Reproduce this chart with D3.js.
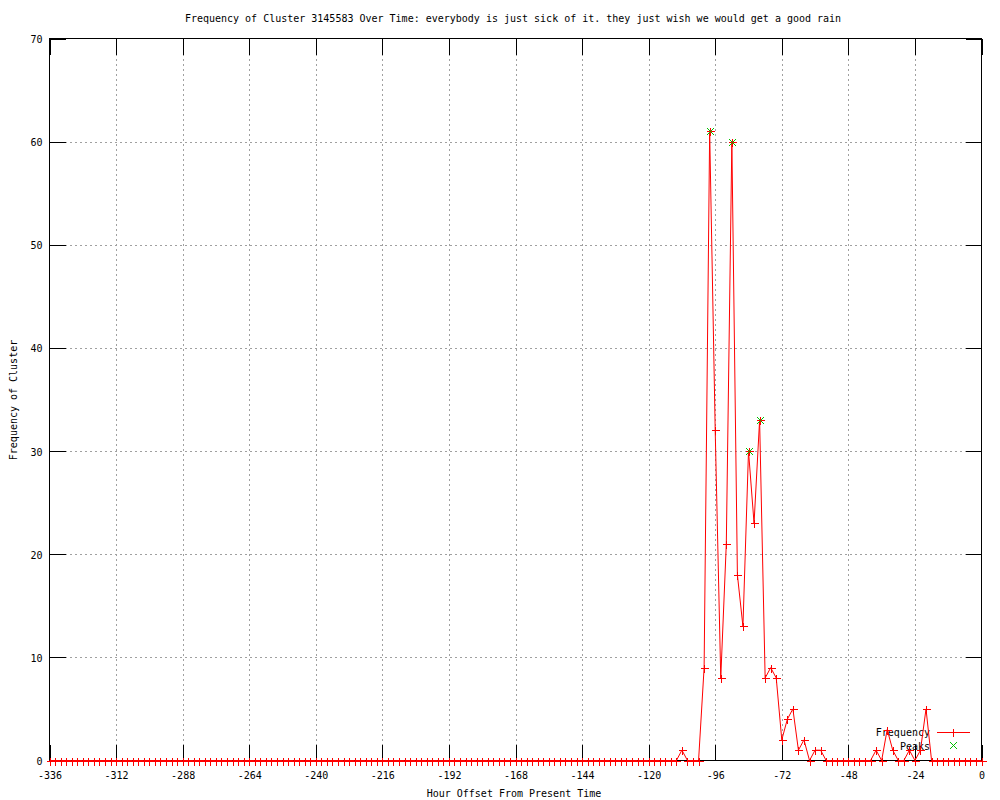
<!DOCTYPE html>
<html>
<head>
<meta charset="utf-8">
<script src="https://cdn.jsdelivr.net/npm/d3@7"></script>
<style>
  body { margin: 0; background: #fff; }
  svg text { font-family: 'DejaVu Sans Mono', monospace; font-size: 10px; fill: #000; }
</style>
</head>
<body>
<svg class="freq-svg" width="1000" height="800"></svg>
<script>
const title = 'Frequency of Cluster 3145583 Over Time: everybody is just sick of it. they just wish we would get a good rain'
const xLabel = 'Hour Offset From Present Time'
const yLabel = 'Frequency of Cluster'

// one sample every 2 hours, -336 .. 0
const hours = d3.range(-336, 1, 2)
const counts = [
  0, 0, 0, 0, 0, 0, 0, 0, 0, 0, 0, 0,
  0, 0, 0, 0, 0, 0, 0, 0, 0, 0, 0, 0,
  0, 0, 0, 0, 0, 0, 0, 0, 0, 0, 0, 0,
  0, 0, 0, 0, 0, 0, 0, 0, 0, 0, 0, 0,
  0, 0, 0, 0, 0, 0, 0, 0, 0, 0, 0, 0,
  0, 0, 0, 0, 0, 0, 0, 0, 0, 0, 0, 0,
  0, 0, 0, 0, 0, 0, 0, 0, 0, 0, 0, 0,
  0, 0, 0, 0, 0, 0, 0, 0, 0, 0, 0, 0,
  0, 0, 0, 0, 0, 0, 0, 0, 0, 0, 0, 0,
  0, 0, 0, 0, 0, 0, 1, 0, 0, 0, 9, 61,
  32, 8, 21, 60, 18, 13, 30, 23, 33, 8, 9, 8,
  2, 4, 5, 1, 2, 0, 1, 1, 0, 0, 0, 0,
  0, 0, 0, 0, 0, 1, 0, 3, 1, 0, 0, 1,
  0, 1, 5, 0, 0, 0, 0, 0, 0, 0, 0, 0,
  0
]

const peakHours = [-98, -90, -84, -80]
const peakCounts = [61, 60, 30, 33]

const xTicks = d3.range(-336, 1, 24)
const yTicks = d3.range(0, 71, 10)

const plotLeft = 49.5
const plotRight = 981.5
const plotTop = 38.5
const plotBottom = 760.5
const tickLen = 16

const svg = d3.select('.freq-svg')

const xScale = d3.scaleLinear().domain([-336, 0]).range([plotLeft, plotRight])
const yScale = d3.scaleLinear().domain([0, 70]).range([plotBottom, plotTop])

/**
 * Dashed grid lines at every major tick
 */
function drawGrid () {
  const g = svg.append('g')
    .attr('stroke', '#a0a0a0')
    .attr('stroke-dasharray', '2,3')
    .attr('shape-rendering', 'crispEdges')
  g.selectAll('.gx')
    .data(xTicks.slice(1, -1))
    .enter().append('line')
    .attr('x1', d => Math.round(xScale(d)) + 0.5)
    .attr('x2', d => Math.round(xScale(d)) + 0.5)
    .attr('y1', plotTop)
    .attr('y2', plotBottom)
  g.selectAll('.gy')
    .data(yTicks.slice(1, -1))
    .enter().append('line')
    .attr('y1', d => Math.round(yScale(d)) + 0.5)
    .attr('y2', d => Math.round(yScale(d)) + 0.5)
    .attr('x1', plotLeft)
    .attr('x2', plotRight)
}

/**
 * Border box, mirrored ticks and tick labels, gnuplot style
 */
function drawAxes () {
  const fmt = d => `${d}`

  // inner ticks are negative, so the padding alone sets the label offset
  svg.append('g')
    .attr('class', 'x axis')
    .attr('transform', `translate(0,${plotBottom})`)
    .call(d3.axisBottom(xScale).tickValues(xTicks).tickFormat(fmt).tickSizeInner(-tickLen).tickSizeOuter(0).tickPadding(11))
  svg.append('g')
    .attr('class', 'x axis top')
    .attr('transform', `translate(0,${plotTop})`)
    .call(d3.axisTop(xScale).tickValues(xTicks).tickFormat('').tickSizeInner(-tickLen).tickSizeOuter(0))
  svg.append('g')
    .attr('class', 'y axis')
    .attr('transform', `translate(${plotLeft},0)`)
    .call(d3.axisLeft(yScale).tickValues(yTicks).tickFormat(fmt).tickSizeInner(-tickLen).tickSizeOuter(0).tickPadding(7))
  svg.append('g')
    .attr('class', 'y axis right')
    .attr('transform', `translate(${plotRight},0)`)
    .call(d3.axisRight(yScale).tickValues(yTicks).tickFormat('').tickSizeInner(-tickLen).tickSizeOuter(0))

  svg.selectAll('.axis').attr('shape-rendering', 'crispEdges')
  svg.selectAll('.axis .domain').remove()
  svg.selectAll('.axis line').attr('stroke', '#000')
  svg.selectAll('.axis text').attr('font-family', null).attr('font-size', null).attr('fill', '#000')
  svg.selectAll('.y.axis text').attr('dy', '0.4em')

  svg.append('rect')
    .attr('x', plotLeft).attr('y', plotTop)
    .attr('width', plotRight - plotLeft).attr('height', plotBottom - plotTop)
    .attr('fill', 'none').attr('stroke', '#000')
    .attr('shape-rendering', 'crispEdges')
}

/**
 * Title and axis labels
 */
function drawLabels () {
  svg.append('text')
    .attr('x', 513).attr('y', 22)
    .attr('text-anchor', 'middle')
    .text(title)
  svg.append('text')
    .attr('x', 514).attr('y', 797)
    .attr('text-anchor', 'middle')
    .text(xLabel)
  svg.append('text')
    .attr('transform', 'translate(17,400) rotate(-90)')
    .attr('text-anchor', 'middle')
    .text(yLabel)
}

/**
 * Draws a '+' mark
 */
function plus (sel, size) {
  sel.append('path').attr('d', `M${-size},0H${size}M0,${-size}V${size}`)
}

/**
 * Draws a 'x' mark
 */
function cross (sel, size) {
  sel.append('path').attr('d', `M${-size},${-size}L${size},${size}M${-size},${size}L${size},${-size}`)
}

/**
 * Key in the lower right corner
 */
function drawLegend () {
  svg.append('text').attr('x', 930).attr('y', 736).attr('text-anchor', 'end').text('Frequency')
  svg.append('text').attr('x', 930).attr('y', 749.5).attr('text-anchor', 'end').text('Peaks')
  svg.append('line')
    .attr('x1', 937).attr('x2', 970).attr('y1', 732.5).attr('y2', 732.5)
    .attr('stroke', '#ff0000').attr('shape-rendering', 'crispEdges')
  svg.append('g').attr('transform', 'translate(953.5,732.5)')
    .attr('stroke', '#ff0000').attr('shape-rendering', 'crispEdges')
    .call(plus, 4)
  svg.append('g').attr('transform', 'translate(953.5,745.5)')
    .attr('stroke', '#00c000')
    .call(cross, 3.5)
}

/**
 * Frequency line with '+' points, then the green peak marks
 */
function drawSeries () {
  const data = hours.map((h, i) => ({ h, c: counts[i] }))
  const line = d3.line().x(d => xScale(d.h)).y(d => yScale(d.c))

  svg.append('path')
    .datum(data)
    .attr('d', line)
    .attr('fill', 'none')
    .attr('stroke', '#ff0000')
    .attr('stroke-width', 1)

  svg.append('g')
    .attr('stroke', '#ff0000')
    .attr('shape-rendering', 'crispEdges')
    .selectAll('g')
    .data(data)
    .enter().append('g')
    .attr('transform', d => `translate(${Math.round(xScale(d.h)) + 0.5},${Math.round(yScale(d.c)) + 0.5})`)
    .each(function () { plus(d3.select(this), 4) })

  svg.append('g')
    .attr('stroke', '#00c000')
    .selectAll('g')
    .data(peakHours.map((h, i) => ({ h, c: peakCounts[i] })))
    .enter().append('g')
    .attr('transform', d => `translate(${Math.round(xScale(d.h)) + 0.5},${Math.round(yScale(d.c)) + 0.5})`)
    .each(function () { cross(d3.select(this), 3.5) })
}

drawGrid()
drawAxes()
drawLabels()
drawLegend()
drawSeries()
</script>
</body>
</html>
